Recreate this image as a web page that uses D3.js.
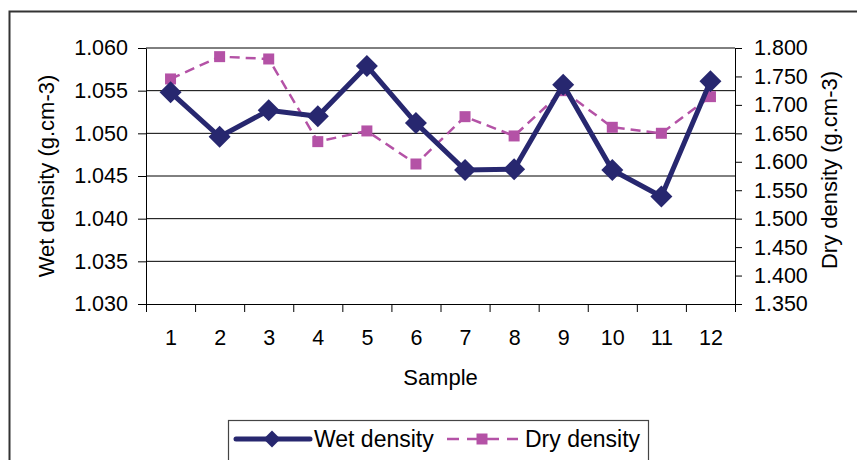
<!DOCTYPE html>
<html>
<head>
<meta charset="utf-8">
<script src="https://cdn.jsdelivr.net/npm/d3@7/dist/d3.min.js"></script>
<style>
  html, body { margin: 0; padding: 0; background: #fff; }
  svg { display: block; font-family: "Liberation Sans", Arial, sans-serif; }
</style>
</head>
<body>
<svg id="chart" width="857" height="460"></svg>
<script>
const samples = [1, 2, 3, 4, 5, 6, 7, 8, 9, 10, 11, 12];
const wetDensity = [1.0548, 1.0496, 1.0527, 1.0520, 1.0579, 1.0512, 1.0457, 1.0458, 1.0557, 1.0457, 1.0426, 1.0561];
const dryDensity = [1.7456, 1.7848, 1.7807, 1.6354, 1.6542, 1.5961, 1.6793, 1.6454, 1.7250, 1.6606, 1.6501, 1.7145];
const wetTicks = [1.030, 1.035, 1.040, 1.045, 1.050, 1.055, 1.060];
const dryTicks = [1.350, 1.400, 1.450, 1.500, 1.550, 1.600, 1.650, 1.700, 1.750, 1.800];
const seriesNames = ["Wet density", "Dry density"];

const wetColor = "#27276f";
const dryColor = "#b452a6";

const svg = d3.select("#chart");
const L = 146, R = 735, T = 48, B = 304;

// outer chart border (clipped at right/bottom like the reference)
svg.append("rect").attr("x", 9.5).attr("y", 11.5).attr("width", 900).attr("height", 500)
  .attr("fill", "none").attr("stroke", "#333").attr("stroke-width", 2);

const x = d3.scaleLinear().domain([0.5, 12.5]).range([L, R]);
const yL = d3.scaleLinear().domain([1.030, 1.060]).range([B, T]);
const yR = d3.scaleLinear().domain([1.350, 1.800]).range([B, T]);

// gridlines
svg.append("g").selectAll("line").data(wetTicks.slice(1)).join("line")
  .attr("x1", L).attr("x2", R)
  .attr("y1", d => yL(d)).attr("y2", d => yL(d))
  .attr("stroke", "#000").attr("stroke-width", 1);

// left axis
const gL = svg.append("g").attr("transform", `translate(${L},0)`)
  .call(d3.axisLeft(yL).tickValues(wetTicks).tickFormat(d3.format(".3f")).tickSize(8).tickPadding(10).tickSizeOuter(0));
// right axis
const gR = svg.append("g").attr("transform", `translate(${R},0)`)
  .call(d3.axisRight(yR).tickValues(dryTicks).tickFormat(d3.format(".3f")).tickSize(7).tickPadding(12).tickSizeOuter(0));
// bottom axis: tick marks at boundaries
const bounds = d3.range(0, 13).map(i => i + 0.5);
const gB = svg.append("g").attr("transform", `translate(0,${B})`)
  .call(d3.axisBottom(x).tickValues(bounds).tickFormat("").tickSize(8).tickSizeOuter(0));
// bottom labels
const gBL = svg.append("g").attr("transform", `translate(0,${B})`)
  .call(d3.axisBottom(x).tickValues(samples).tickFormat(d3.format("d")).tickSize(0).tickPadding(26));
gBL.select(".domain").remove();

[gL, gR, gB, gBL].forEach(g => {
  g.selectAll(".domain").attr("stroke", "#000").attr("stroke-width", 1);
  g.selectAll(".tick line").attr("stroke", "#000");
  g.selectAll("text").attr("fill", "#000").style("font-size", "21.5px")
    .style("font-family", "'Liberation Sans', Arial, sans-serif");
});

// axis titles
svg.append("text").attr("x", (L + R) / 2).attr("y", 385).attr("text-anchor", "middle")
  .style("font-size", "22px").text("Sample");
svg.append("text").attr("transform", `translate(54,${(T + B) / 2}) rotate(-90)`).attr("text-anchor", "middle")
  .style("font-size", "22px").text("Wet density (g.cm-3)");
svg.append("text").attr("transform", `translate(837,170) rotate(-90)`).attr("text-anchor", "middle")
  .style("font-size", "22px").text("Dry density (g.cm-3)");

// dry series
const dryLine = d3.line().x((d, i) => x(samples[i])).y(d => yR(d));
svg.append("path").datum(dryDensity).attr("d", dryLine).attr("fill", "none")
  .attr("stroke", dryColor).attr("stroke-width", 2.5).attr("stroke-dasharray", "10,6");
const sq = d3.symbol().type(d3.symbolSquare).size(121);
svg.append("g").selectAll("path").data(dryDensity).join("path")
  .attr("transform", (d, i) => `translate(${x(samples[i])},${yR(d)})`)
  .attr("d", sq).attr("fill", dryColor);

// wet series
const wetLine = d3.line().x((d, i) => x(samples[i])).y(d => yL(d));
svg.append("path").datum(wetDensity).attr("d", wetLine).attr("fill", "none")
  .attr("stroke", wetColor).attr("stroke-width", 5).attr("stroke-linejoin", "miter");
const diamond = (cx, cy, r) => `M${cx},${cy - r}L${cx + r},${cy}L${cx},${cy + r}L${cx - r},${cy}Z`;
svg.append("g").selectAll("path").data(wetDensity).join("path")
  .attr("d", (d, i) => diamond(x(samples[i]), yL(d), 11)).attr("fill", wetColor);

// legend
const lg = svg.append("g");
lg.append("rect").attr("x", 228.5).attr("y", 420.5).attr("width", 420).attr("height", 60)
  .attr("fill", "#fff").attr("stroke", "#444").attr("stroke-width", 1.2);
const ly = 439;
lg.append("line").attr("x1", 236).attr("x2", 310).attr("y1", ly).attr("y2", ly)
  .attr("stroke", wetColor).attr("stroke-width", 5).attr("stroke-linecap", "round");
lg.append("path").attr("d", diamond(272, ly, 8.5)).attr("fill", wetColor);
lg.append("text").attr("x", 314).attr("y", 447).style("font-size", "23px").text(seriesNames[0]);
lg.append("line").attr("x1", 447).attr("x2", 518).attr("y1", ly).attr("y2", ly)
  .attr("stroke", dryColor).attr("stroke-width", 2.5).attr("stroke-dasharray", "12,8");
lg.append("path").attr("transform", `translate(482,${ly})`).attr("d", sq).attr("fill", dryColor);
lg.append("text").attr("x", 525).attr("y", 447).style("font-size", "23px").text(seriesNames[1]);
</script>
</body>
</html>
